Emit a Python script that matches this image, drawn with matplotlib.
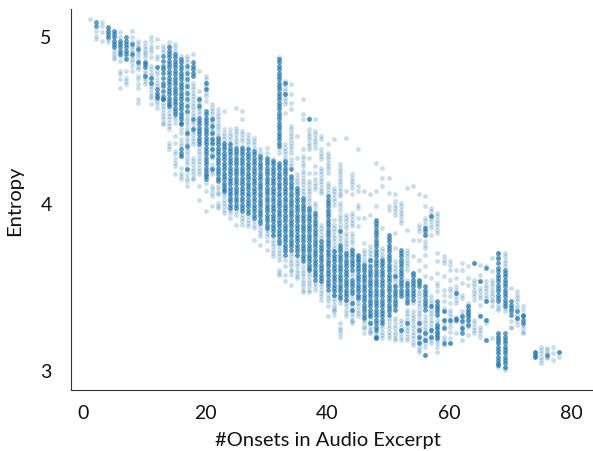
import matplotlib
matplotlib.use('Agg')
import matplotlib.pyplot as plt

# values, one pair of lists per onset count
# lNN = single points, dNN = places where many points pile up
l01 = [5.10]
d01 = []
l02 = [5.03, 5.00, 4.98]
d02 = [5.08, 5.06]
l03 = [5.08, 5.06, 5.02, 4.97]
d03 = []
l04 = [5.04, 4.98, 4.96]
d04 = [5.05, 5.03, 5.01, 4.99]
l05 = [4.91, 4.89, 4.87, 4.86]
d05 = [5.03, 5.01, 4.99, 4.97, 4.95, 4.93]
l06 = [5.02, 4.99, 4.88, 4.85, 4.79, 4.77, 4.74, 4.69]
d06 = [4.97, 4.95, 4.93, 4.91, 4.89]
l07 = [4.87, 4.79, 4.75, 4.71, 4.73]
d07 = [4.99, 4.97, 4.95, 4.93, 4.91, 4.89, 4.86]
l08 = [5.03, 4.99, 4.96, 4.94, 4.92, 4.90, 4.88, 4.86, 4.84, 4.82, 4.79]
d08 = [4.95, 4.89]
l09 = [4.97, 4.95, 4.93, 4.91, 4.89, 4.87, 4.85, 4.83, 4.81, 4.80, 4.76, 4.74, 4.71, 4.69, 4.62, 4.60]
d09 = [4.92, 4.84]
l10 = [4.96, 4.94, 4.92, 4.90, 4.89, 4.79, 4.77, 4.75, 4.73, 4.71, 4.87]
d10 = [4.84, 4.83, 4.81, 4.76]
l11 = [4.99, 4.97, 4.94, 4.92, 4.90, 4.87, 4.82, 4.80, 4.78, 4.76, 4.74, 4.72, 4.70, 4.68, 4.66, 4.64, 4.63, 4.59]
d11 = [4.75, 4.72]
l12 = [4.98, 4.93, 4.88, 4.86, 4.81, 4.79, 4.77, 4.74, 4.72, 4.70, 4.61, 4.59, 4.57]
d12 = [4.81, 4.68, 4.66, 4.64, 4.63]
l13 = [4.94, 4.92, 4.90, 4.60, 4.58, 4.56, 4.54, 4.52, 4.50, 4.48, 4.47]
d13 = [4.88, 4.85, 4.82, 4.80, 4.78, 4.75, 4.72, 4.70, 4.67, 4.64, 4.62, 4.62]
l14 = [4.96, 4.94, 4.56, 4.54, 4.52, 4.50, 4.48, 4.46, 4.44, 4.36, 4.34, 4.32]
d14 = [4.93, 4.91, 4.89, 4.87, 4.85, 4.83, 4.81, 4.79, 4.77, 4.75, 4.73, 4.71, 4.69, 4.67, 4.65, 4.63, 4.61, 4.59, 4.58]
l15 = [4.95, 4.93, 4.91, 4.52, 4.50, 4.48, 4.40, 4.36, 4.31, 4.29, 4.26, 4.24, 4.22, 4.17]
d15 = [4.89, 4.87, 4.85, 4.83, 4.81, 4.79, 4.77, 4.75, 4.73, 4.71, 4.69, 4.67, 4.65, 4.63, 4.61, 4.59, 4.57, 4.55, 4.53]
l16 = [4.88, 4.44, 4.42, 4.38, 4.36, 4.34, 4.21, 4.14, 4.28, 4.18, 4.16]
d16 = [4.86, 4.84, 4.82, 4.80, 4.78, 4.76, 4.74, 4.72, 4.70, 4.68, 4.66, 4.64, 4.62, 4.60, 4.58, 4.56, 4.54, 4.52, 4.50, 4.48, 4.47, 4.32, 4.30, 4.28]
l17 = [4.88, 4.86, 4.84, 4.80, 4.76, 4.72, 4.68, 4.64, 4.60, 4.53, 4.51, 4.49, 4.47, 4.45, 4.43, 4.41, 4.39, 4.37, 4.35, 4.33, 4.31, 4.29, 4.27, 4.25, 4.23, 4.20, 4.17, 4.13, 4.10, 4.15]
d17 = [4.82, 4.78, 4.74, 4.70, 4.66, 4.62, 4.58, 4.55, 4.42, 4.34, 4.20]
l18 = [4.89, 4.72, 4.70, 4.68, 4.66, 4.64, 4.62, 4.60, 4.58, 4.56, 4.54, 4.52, 4.49, 4.47, 4.45, 4.43, 4.41, 4.39, 4.37, 4.35, 4.27, 4.25, 4.23, 4.21, 4.19, 4.17, 4.15, 4.14]
d18 = [4.84, 4.82, 4.80, 4.78, 4.76, 4.50, 4.44]
l19 = [4.79, 4.67, 4.63, 4.61, 4.59, 4.57, 4.55, 4.53, 4.33, 4.31, 4.29, 4.27, 4.25, 4.23, 4.21, 4.19, 4.17, 4.10, 4.02]
d19 = [4.62, 4.58, 4.51, 4.49, 4.47, 4.45, 4.43, 4.41, 4.39, 4.37, 4.35]
l20 = [4.76, 4.74, 4.72, 4.70, 4.68, 4.66, 4.64, 4.61, 4.07, 3.95, 4.12]
d20 = [4.72, 4.68, 4.55, 4.53, 4.51, 4.49, 4.47, 4.45, 4.43, 4.41, 4.39, 4.37, 4.35, 4.33, 4.31, 4.29, 4.27, 4.25, 4.23, 4.21, 4.19, 4.17, 4.16, 4.14]
l21 = [4.59, 4.57, 4.55, 4.53, 4.51, 4.49, 4.47, 4.45, 4.43, 4.41, 4.39, 4.37, 4.35, 4.33, 4.31, 4.29, 4.27, 4.23, 4.21, 4.19, 4.17, 4.10, 4.08, 4.06, 4.04, 3.98]
d21 = [4.50, 4.46, 4.42, 4.38, 4.36, 4.32, 4.28, 4.20]
l22 = [4.56, 4.54, 4.52, 4.50, 4.48, 4.46, 4.44, 4.42, 4.40, 4.14, 4.10, 4.08, 4.06, 4.05, 3.97, 4.00, 3.98]
d22 = [4.39, 4.37, 4.35, 4.33, 4.31, 4.29, 4.27, 4.25, 4.23, 4.21, 4.19, 4.17, 4.15, 4.13]
l23 = [4.55, 4.44, 4.42, 4.40, 4.38, 4.06, 4.04, 4.02, 4.00, 3.98, 3.96, 3.94]
d23 = [4.36, 4.34, 4.32, 4.30, 4.28, 4.26, 4.24, 4.22, 4.20, 4.18, 4.16, 4.14, 4.12, 4.10, 4.08, 4.07]
l24 = [4.44, 4.42, 4.40, 4.38, 4.36, 3.96, 3.94, 3.91, 4.05, 4.02]
d24 = [4.35, 4.33, 4.31, 4.29, 4.27, 4.25, 4.23, 4.21, 4.19, 4.17, 4.15, 4.13, 4.11, 4.09, 4.07, 4.05, 4.03, 4.01, 3.99, 3.97]
l25 = [4.57, 4.45, 4.43, 4.41, 4.39, 4.37, 4.35, 3.95, 3.93, 3.87]
d25 = [4.33, 4.31, 4.29, 4.27, 4.25, 4.23, 4.21, 4.19, 4.17, 4.15, 4.13, 4.11, 4.09, 4.07, 4.05, 4.03, 4.01, 3.99, 3.97]
l26 = [4.55, 4.50, 4.43, 4.41, 4.39, 4.37, 4.34, 3.93, 3.91, 3.89, 3.87]
d26 = [4.33, 4.31, 4.29, 4.27, 4.25, 4.23, 4.21, 4.19, 4.17, 4.15, 4.13, 4.11, 4.09, 4.07, 4.05, 4.03, 4.01, 3.99, 3.97, 3.95]
l27 = [4.41, 4.39, 4.37, 4.35, 4.33, 3.92, 3.90, 3.88, 3.86]
d27 = [4.32, 4.30, 4.28, 4.26, 4.24, 4.22, 4.20, 4.18, 4.16, 4.14, 4.12, 4.10, 4.08, 4.06, 4.04, 4.02, 4.00, 3.98, 3.96, 3.94]
l28 = [4.39, 4.37, 4.35, 4.33, 3.89, 3.87, 3.85, 3.78]
d28 = [4.31, 4.29, 4.27, 4.25, 4.23, 4.21, 4.19, 4.17, 4.15, 4.13, 4.11, 4.09, 4.07, 4.05, 4.03, 4.01, 3.99, 3.97, 3.95, 3.93, 3.91]
l29 = [4.32, 4.30, 3.86, 3.84, 3.82, 3.80, 3.75]
d29 = [4.28, 4.26, 4.24, 4.22, 4.20, 4.18, 4.16, 4.14, 4.12, 4.10, 4.08, 4.06, 4.04, 4.02, 4.00, 3.98, 3.96, 3.94, 3.92, 3.90, 3.88]
l30 = [4.33, 4.30, 3.84, 3.82, 3.80, 3.77, 3.72]
d30 = [4.27, 4.25, 4.23, 4.21, 4.19, 4.17, 4.15, 4.13, 4.11, 4.09, 4.07, 4.05, 4.03, 4.01, 3.99, 3.97, 3.95, 3.93, 3.91, 3.89, 3.87, 3.85]
l31 = [4.26, 3.80, 3.78, 3.76, 3.74, 3.72, 3.70, 3.68]
d31 = [4.25, 4.23, 4.21, 4.19, 4.17, 4.15, 4.13, 4.11, 4.09, 4.07, 4.05, 4.03, 4.01, 3.99, 3.97, 3.95, 3.93, 3.91, 3.89, 3.87, 3.85, 3.83, 3.81]
l32 = [4.87, 4.32, 4.30, 3.74, 3.72, 3.70, 3.68, 3.66, 3.60, 3.58, 3.57]
d32 = [4.86, 4.84, 4.82, 4.80, 4.78, 4.76, 4.74, 4.72, 4.70, 4.68, 4.66, 4.64, 4.62, 4.60, 4.58, 4.56, 4.54, 4.52, 4.50, 4.48, 4.46, 4.44, 4.42, 4.40, 4.38, 4.36, 4.34, 4.24, 4.22, 4.20, 4.18, 4.16, 4.14, 4.12, 4.10, 4.08, 4.06, 4.04, 4.02, 4.00, 3.98, 3.96, 3.94, 3.92, 3.90, 3.88, 3.86, 3.84, 3.82, 3.80, 3.78, 3.76]
l33 = [4.73, 4.71, 4.69, 4.67, 4.65, 4.63, 4.61, 4.59, 4.54, 4.35, 4.33, 4.31, 4.29, 4.27, 3.66, 3.62, 3.57, 3.53]
d33 = [4.72, 4.65, 4.25, 4.23, 4.21, 4.19, 4.17, 4.15, 4.13, 4.11, 4.09, 4.07, 4.05, 4.03, 4.01, 3.99, 3.97, 3.95, 3.93, 3.91, 3.89, 3.87, 3.85, 3.83, 3.81, 3.79, 3.77, 3.75, 3.73, 3.71, 3.69]
l34 = [4.71, 4.65, 4.60, 4.56, 4.46, 4.44, 4.42, 4.40, 4.38, 4.36, 4.34, 4.32, 4.30, 4.26, 4.24, 4.22, 3.70, 3.68, 3.66, 3.64, 3.62, 3.60, 3.59, 3.57, 3.51]
d34 = [4.20, 4.16, 4.14, 4.12, 4.10, 4.08, 4.06, 4.04, 4.02, 4.00, 3.98, 3.96, 3.94, 3.92, 3.90, 3.88, 3.86, 3.84, 3.82, 3.80, 3.78, 3.76, 3.74, 3.72]
l35 = [4.40, 4.27, 4.17, 4.15, 4.13, 4.11, 3.68, 3.66, 3.64, 3.62, 3.60, 3.58, 3.56, 3.55]
d35 = [4.09, 4.07, 4.05, 4.03, 4.01, 3.99, 3.97, 3.95, 3.93, 3.91, 3.89, 3.87, 3.85, 3.83, 3.81, 3.79, 3.77, 3.75, 3.73, 3.71, 3.69]
l36 = [4.62, 4.53, 4.50, 4.32, 4.28, 4.26, 4.24, 4.22, 4.19, 4.17, 4.15, 4.13, 4.11, 4.09, 4.07, 4.05, 3.62, 3.60, 3.58, 3.56, 3.54, 3.52, 3.50, 3.48, 3.465]
d36 = [4.03, 4.01, 3.99, 3.97, 3.95, 3.93, 3.91, 3.89, 3.87, 3.85, 3.83, 3.81, 3.79, 3.77, 3.75, 3.73, 3.71, 3.69, 3.67, 3.65]
l37 = [4.51, 4.44, 4.42, 4.40, 4.38, 4.36, 4.34, 4.32, 4.27, 4.18, 4.13, 4.11, 4.09, 4.07, 4.05, 4.03, 4.01, 3.99, 3.58, 3.56, 3.54, 3.52, 3.50, 3.48, 3.465]
d37 = [4.50, 3.97, 3.95, 3.93, 3.91, 3.89, 3.87, 3.85, 3.83, 3.81, 3.79, 3.77, 3.75, 3.73, 3.71, 3.69, 3.67, 3.65, 3.63, 3.61, 3.60]
l38 = [4.50, 4.43, 4.41, 4.39, 4.37, 4.35, 4.33, 4.22, 4.18, 4.14, 4.12, 4.10, 4.08, 4.00, 3.98, 3.96, 3.52, 3.50, 3.48]
d38 = [3.94, 3.92, 3.90, 3.88, 3.86, 3.84, 3.82, 3.80, 3.78, 3.76, 3.74, 3.72, 3.70, 3.68, 3.66, 3.64, 3.62, 3.60, 3.58, 3.56, 3.54]
l39 = [4.40, 4.38, 4.32, 4.30, 4.28, 4.26, 4.21, 4.19, 4.17, 4.15, 4.13, 4.11, 4.09, 4.07, 4.06, 3.87, 3.85, 3.83, 3.81, 3.79, 3.52, 3.50, 3.48, 3.46, 3.44, 3.42]
d39 = [3.77, 3.75, 3.73, 3.71, 3.69, 3.67, 3.65, 3.63, 3.61, 3.59, 3.57, 3.55, 3.53]
l40 = [4.35, 4.30, 4.28, 4.26, 4.24, 4.22, 4.20, 4.18, 4.12, 4.10, 4.08, 4.06, 3.45, 3.43, 3.41, 3.38, 3.32]
d40 = [4.04, 4.02, 4.00, 3.98, 3.96, 3.94, 3.92, 3.90, 3.88, 3.86, 3.84, 3.82, 3.80, 3.78, 3.76, 3.74, 3.72, 3.70, 3.68, 3.66, 3.64, 3.62, 3.60, 3.58, 3.56, 3.54, 3.52, 3.50, 3.48]
l41 = [4.38, 4.09, 4.07, 4.05, 4.03, 4.01, 3.99, 3.90, 3.87, 3.85, 3.83, 3.81, 3.79, 3.77, 3.75, 3.73, 3.71, 3.45, 3.43, 3.41, 3.39, 3.37, 3.35, 3.33, 3.36]
d41 = [3.71, 3.69, 3.67, 3.65, 3.63, 3.61, 3.59, 3.57, 3.55, 3.53, 3.51, 3.49, 3.47, 3.45]
l42 = [4.23, 4.21, 4.19, 4.17, 4.15, 4.13, 4.11, 4.09, 4.07, 4.05, 4.04, 4.00, 3.98, 3.96, 3.93, 3.91, 3.89, 3.87, 3.85, 3.83, 3.81, 3.79, 3.77, 3.42, 3.40, 3.28, 3.25, 3.22, 3.20, 3.24]
d42 = [3.83, 3.75, 3.73, 3.71, 3.69, 3.67, 3.65, 3.63, 3.61, 3.59, 3.57, 3.55, 3.53, 3.51, 3.49, 3.47, 3.45, 3.43]
l43 = [4.39, 4.07, 3.93, 3.91, 3.89, 3.87, 3.85, 3.82, 3.80, 3.78, 3.76, 3.74, 3.72, 3.42, 3.40, 3.38, 3.36, 3.34, 3.32]
d43 = [3.70, 3.68, 3.66, 3.64, 3.62, 3.60, 3.58, 3.56, 3.54, 3.52, 3.50, 3.48, 3.46, 3.44, 3.42]
l44 = [4.17, 4.15, 4.13, 4.11, 4.09, 4.05, 3.94, 3.92, 3.90, 3.88, 3.86, 3.82, 3.80, 3.78, 3.76, 3.73, 3.58, 3.56, 3.44, 3.42, 3.40, 3.38, 3.36, 3.34, 3.32, 3.30, 3.28, 3.29]
d44 = [3.72, 3.70, 3.68, 3.66, 3.64, 3.62, 3.60, 3.54, 3.52, 3.50, 3.48, 3.46, 3.40, 3.36]
l45 = [4.32, 4.10, 4.07, 3.99, 3.97, 3.91, 3.86, 3.68, 3.66, 3.64, 3.44, 3.42, 3.40, 3.38, 3.36, 3.34, 3.32]
d45 = [3.69, 3.67, 3.65, 3.63, 3.61, 3.59, 3.57, 3.55, 3.53, 3.51, 3.49, 3.47, 3.45, 3.43]
l46 = [4.07, 3.91, 3.76, 3.72, 3.70, 3.68, 3.66, 3.64, 3.30, 3.28, 3.25, 3.22, 3.26]
d46 = [3.63, 3.61, 3.59, 3.57, 3.55, 3.53, 3.51, 3.49, 3.47, 3.45, 3.43, 3.41, 3.39, 3.37, 3.35, 3.33, 3.31]
l47 = [4.05, 3.93, 3.74, 3.72, 3.70, 3.68, 3.66, 3.64, 3.32, 3.30, 3.28, 3.26, 3.24, 3.22, 3.23]
d47 = [3.66, 3.62, 3.60, 3.58, 3.56, 3.54, 3.52, 3.50, 3.48, 3.46, 3.44, 3.42, 3.40, 3.38, 3.36, 3.34, 3.32, 3.28]
l48 = [4.24, 4.07, 3.98, 3.23, 3.21, 3.19]
d48 = [3.90, 3.88, 3.86, 3.84, 3.82, 3.80, 3.78, 3.76, 3.74, 3.72, 3.70, 3.68, 3.66, 3.64, 3.62, 3.60, 3.58, 3.56, 3.54, 3.52, 3.50, 3.48, 3.46, 3.44, 3.42, 3.40, 3.38, 3.36, 3.34, 3.32, 3.30, 3.28, 3.26, 3.24, 3.20, 3.19]
l49 = [4.21, 4.15, 4.10, 3.85, 3.73, 3.71, 3.69, 3.67, 3.27, 3.25, 3.23, 3.21, 3.19]
d49 = [3.66, 3.64, 3.62, 3.60, 3.58, 3.56, 3.54, 3.52, 3.50, 3.48, 3.46, 3.44, 3.42, 3.40, 3.38, 3.36, 3.34, 3.32, 3.30, 3.28]
l50 = [4.15, 4.06, 3.98, 3.96, 3.27, 3.25, 3.23, 3.21, 3.19, 3.29, 3.31]
d50 = [3.81, 3.79, 3.77, 3.75, 3.73, 3.71, 3.69, 3.67, 3.65, 3.63, 3.61, 3.59, 3.57, 3.55, 3.53, 3.51, 3.49, 3.47, 3.45, 3.43, 3.41, 3.39, 3.37, 3.35, 3.33]
l51 = [4.05, 4.01, 3.99, 3.97, 3.95, 3.93, 3.82, 3.73, 3.65, 3.63, 3.61, 3.59, 3.57, 3.55, 3.53, 3.51, 3.31, 3.29, 3.27, 3.25, 3.23, 3.21, 3.19, 3.18]
d51 = [3.56, 3.50, 3.48, 3.46, 3.44, 3.42, 3.40, 3.38, 3.36]
l52 = [4.00, 3.98, 3.96, 3.94, 3.92, 3.90, 3.88, 3.30, 3.28, 3.26, 3.24, 3.22, 3.20, 3.18]
d52 = [3.72, 3.70, 3.68, 3.66, 3.64, 3.62, 3.60, 3.58, 3.56, 3.54, 3.52, 3.50, 3.48, 3.46, 3.44, 3.24]
l53 = [4.09, 3.84, 3.72, 3.70, 3.68, 3.66, 3.64, 3.62, 3.60, 3.54, 3.36, 3.34, 3.32, 3.30, 3.28, 3.26, 3.24, 3.22, 3.20, 3.18]
d53 = [3.52, 3.50, 3.48, 3.46, 3.44, 3.42, 3.40, 3.28]
l54 = [4.10, 3.78, 3.68, 3.58, 3.40, 3.35, 3.33, 3.31, 3.29, 3.27, 3.25, 3.23, 3.21, 3.19, 3.17, 3.15]
d54 = [3.58, 3.56, 3.54, 3.52, 3.50, 3.48, 3.46, 3.44, 3.42]
l55 = [4.05, 3.87, 3.85, 3.83, 3.78, 3.66, 3.60, 3.53, 3.48, 3.46, 3.44, 3.42, 3.40, 3.38, 3.36, 3.34, 3.32, 3.30, 3.28, 3.26, 3.24, 3.22, 3.20, 3.18, 3.16, 3.14, 3.12, 3.11]
d55 = [3.54, 3.52, 3.50, 3.28, 3.24, 3.20, 3.16]
l56 = [4.04, 3.98, 3.91, 3.89, 3.87, 3.85, 3.81, 3.77, 3.75, 3.73, 3.69, 3.62, 3.56, 3.32, 3.30, 3.28, 3.26, 3.24, 3.22, 3.20, 3.18, 3.16, 3.14, 3.09]
d56 = [3.85, 3.83, 3.81, 3.50, 3.48, 3.46, 3.44, 3.42, 3.40, 3.38, 3.36, 3.22, 3.18, 3.09]
l57 = [3.97, 3.95, 3.93, 3.91, 3.89, 3.87, 3.85, 3.81, 3.55, 3.44, 3.42, 3.40, 3.38, 3.36, 3.34, 3.32, 3.30, 3.28, 3.26, 3.24, 3.22, 3.20, 3.18, 3.16]
d57 = [3.92, 3.38, 3.24, 3.20]
l58 = [3.94, 3.92, 3.90, 3.88, 3.86, 3.84, 3.82, 3.70, 3.65, 3.58, 3.52, 3.50, 3.47, 3.40, 3.37, 3.34, 3.30, 3.28, 3.26, 3.24, 3.22, 3.20, 3.18, 3.16, 3.14, 3.11]
d58 = [3.41, 3.39, 3.37, 3.35, 3.33, 3.27, 3.25, 3.23, 3.21, 3.19]
l59 = [3.68, 3.66, 3.64, 3.56, 3.48, 3.45, 3.41, 3.37, 3.35, 3.30, 3.28, 3.26, 3.20, 3.18, 3.15]
d59 = [3.35, 3.30, 3.25, 3.16]
l60 = [3.65, 3.63, 3.60, 3.54, 3.49, 3.47, 3.44, 3.40, 3.36, 3.34, 3.32, 3.30, 3.28, 3.26, 3.23, 3.19, 3.16]
d60 = [3.30, 3.16]
l61 = [3.60, 3.55, 3.50, 3.48, 3.46, 3.44, 3.42, 3.40, 3.29, 3.22]
d61 = [3.46, 3.31, 3.30]
l62 = [3.64, 3.60, 3.52, 3.45, 3.43, 3.35, 3.33, 3.31, 3.29, 3.27, 3.25, 3.24, 3.18]
d62 = [3.32, 3.29, 3.25, 3.22]
l63 = [3.62, 3.55, 3.51, 3.40, 3.38, 3.36, 3.34, 3.32, 3.30, 3.28, 3.26, 3.21]
d63 = [3.38, 3.36, 3.34, 3.32, 3.30, 3.27]
l64 = [3.64, 3.54, 3.52, 3.50, 3.48, 3.46, 3.44, 3.42, 3.30, 3.28, 3.26, 3.24, 3.22]
d64 = [3.64]
l65 = [3.63, 3.57, 3.53, 3.49, 3.47, 3.45, 3.43, 3.39, 3.33, 3.26, 3.24, 3.22, 3.20]
d65 = [3.53, 3.32]
l66 = [3.62, 3.53, 3.51, 3.49, 3.47, 3.45, 3.43, 3.41, 3.30, 3.28, 3.18]
d66 = [3.61, 3.41, 3.30, 3.18]
l67 = [3.67, 3.59, 3.54, 3.52, 3.50, 3.48, 3.46, 3.44, 3.42, 3.41, 3.38, 3.19]
d67 = []
l68 = [3.70, 3.68, 3.66, 3.39, 3.37, 3.36, 3.21, 3.19, 3.17, 3.03, 3.02]
d68 = [3.70, 3.67, 3.64, 3.61, 3.59, 3.57, 3.55, 3.53, 3.51, 3.49, 3.47, 3.45, 3.43, 3.41, 3.22, 3.20, 3.18, 3.16, 3.14, 3.12, 3.10, 3.08, 3.06, 3.04, 3.03]
l69 = [3.70, 3.68, 3.66, 3.64, 3.62, 3.37, 3.35, 3.01, 3.00]
d69 = [3.60, 3.58, 3.56, 3.54, 3.52, 3.50, 3.48, 3.46, 3.44, 3.42, 3.40, 3.38, 3.22, 3.20, 3.18, 3.16, 3.14, 3.12, 3.10, 3.08, 3.06, 3.04, 3.02]
l70 = [3.49, 3.29, 3.26, 3.25]
d70 = [3.41, 3.39, 3.37, 3.35, 3.33]
l71 = [3.47, 3.45, 3.43, 3.41, 3.39, 3.37, 3.33, 3.31, 3.29, 3.27]
d71 = [3.35, 3.31]
l72 = [3.38, 3.36, 3.27, 3.25, 3.23, 3.22]
d72 = [3.33, 3.32, 3.30, 3.28]
l74 = [3.11, 3.10, 3.08]
d74 = [3.11, 3.09, 3.08]
l75 = [3.14, 3.12, 3.10, 3.08, 3.06, 3.04]
d75 = []
l76 = [3.13, 3.12, 3.10, 3.08, 3.07]
d76 = [3.09]
l77 = [3.14, 3.10, 3.06]
d77 = []
l78 = [3.11, 3.08]
d78 = [3.11]

onsets = list(range(1, 73)) + [74, 75, 76, 77, 78]
light = [l01, l02, l03, l04, l05, l06, l07, l08, l09, l10, l11, l12, l13, l14, l15, l16,
         l17, l18, l19, l20, l21, l22, l23, l24, l25, l26, l27, l28, l29, l30, l31, l32,
         l33, l34, l35, l36, l37, l38, l39, l40, l41, l42, l43, l44, l45, l46, l47, l48,
         l49, l50, l51, l52, l53, l54, l55, l56, l57, l58, l59, l60, l61, l62, l63, l64,
         l65, l66, l67, l68, l69, l70, l71, l72, l74, l75, l76, l77, l78]
dense = [d01, d02, d03, d04, d05, d06, d07, d08, d09, d10, d11, d12, d13, d14, d15, d16,
         d17, d18, d19, d20, d21, d22, d23, d24, d25, d26, d27, d28, d29, d30, d31, d32,
         d33, d34, d35, d36, d37, d38, d39, d40, d41, d42, d43, d44, d45, d46, d47, d48,
         d49, d50, d51, d52, d53, d54, d55, d56, d57, d58, d59, d60, d61, d62, d63, d64,
         d65, d66, d67, d68, d69, d70, d71, d72, d74, d75, d76, d77, d78]

x_ticks = [0, 20, 40, 60, 80]
y_ticks = [3, 4, 5]

plt.rcParams['font.family'] = ['Lato', 'DejaVu Sans']

fig = plt.figure(figsize=(5.93, 4.52), dpi=100)
ax = fig.add_axes([71 / 593, 1 - 391 / 452, (593 - 71) / 593, (391 - 10) / 452])

for n, vals in zip(onsets, light):
    ax.scatter([n] * len(vals), vals, s=12, color='#1f77b4', alpha=0.24, linewidths=0)
for n, vals in zip(onsets, dense):
    ax.scatter([n] * len(vals), vals, s=12, color='#1f77b4', alpha=0.72, linewidths=0)

ax.set_xlim(-2.05, 83.5)
ax.set_ylim(2.88, 5.16)
ax.set_xticks(x_ticks)
ax.set_yticks(y_ticks)
ax.tick_params(length=0, labelsize=14, colors='#111111')
ax.tick_params(axis='x', pad=10)
ax.tick_params(axis='y', pad=14)
ax.spines['top'].set_visible(False)
ax.spines['right'].set_visible(False)
ax.spines['left'].set_color('#333333')
ax.spines['bottom'].set_color('#333333')
ax.set_xlabel('#Onsets in Audio Excerpt', fontsize=14.5, labelpad=8, color='#111111')
ax.xaxis.set_label_coords((328 - 71) / 522, -(441 - 391 - 9) / 381)
ax.set_ylabel('Entropy', fontsize=14.5, labelpad=12, color='#111111')

fig.savefig('out.png', dpi=100)
